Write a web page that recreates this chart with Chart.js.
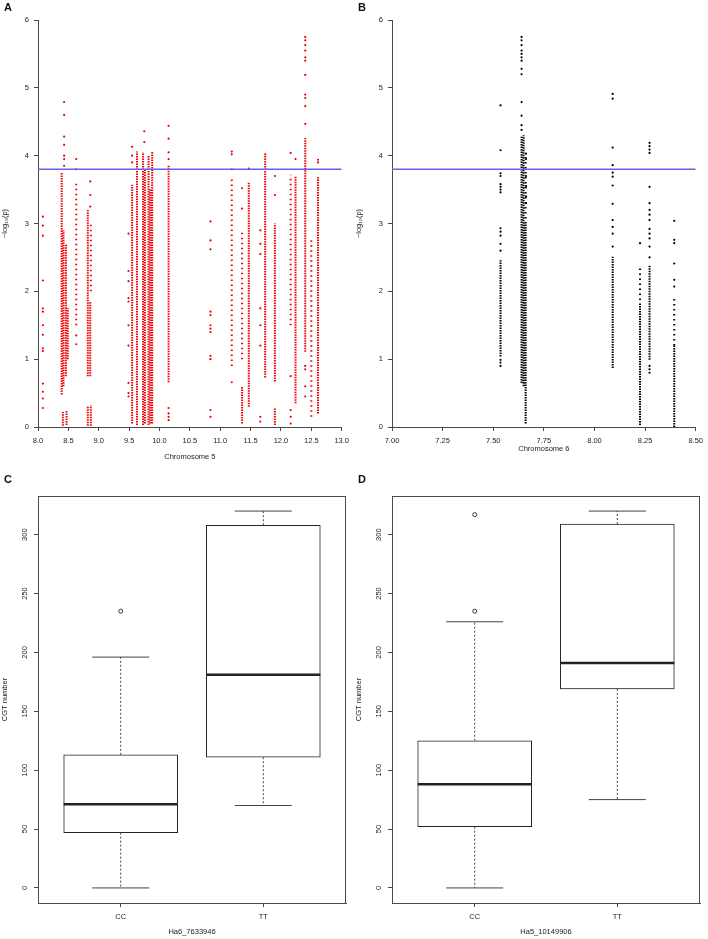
<!DOCTYPE html>
<html lang="en">
<head>
<meta charset="UTF-8">
<title>Chromosome 5 / 6 association and CGT number</title>
<script src="https://cdn.jsdelivr.net/npm/chart.js"></script>
<style>
    body { margin: 0; background: #fff; }
    .figure { position: relative; width: 708px; height: 939px; }
    .panel { position: absolute; }
    .tag { position: absolute; font: bold 11px/11px "Liberation Sans", Arial, sans-serif; color: #111; }
</style>
</head>
<body>
<div class="figure">
    <canvas id="chartA" class="panel" width="354" height="470" style="left:0;top:0"></canvas>
    <canvas id="chartB" class="panel" width="354" height="470" style="left:354px;top:0"></canvas>
    <canvas id="chartC" class="panel" width="354" height="469" style="left:0;top:470px"></canvas>
    <canvas id="chartD" class="panel" width="354" height="469" style="left:354px;top:470px"></canvas>
    <div class="tag" style="left:4px;top:2px">A</div>
    <div class="tag" style="left:358px;top:2px">B</div>
    <div class="tag" style="left:4px;top:474px">C</div>
    <div class="tag" style="left:358px;top:474px">D</div>
</div>

<script>
    // ---- A: chromosome 5 (Mb) vs -log10(p) ----
    const chr5Ticks = [8.0, 8.5, 9.0, 9.5, 10.0, 10.5, 11.0, 11.5, 12.0, 12.5, 13.0];
    const logpTicks = [0, 1, 2, 3, 4, 5, 6];
    const threshold = 3.8;

    // tightly packed runs of markers: [position, lowest, highest]
    const chr5Dense = [
        [8.39, 0.48, 3.75], [8.42, 0.60, 2.90], [8.46, 0.75, 2.70], [8.49, 1.00, 1.75],
        [8.41, 0.02, 0.22], [8.47, 0.03, 0.25],
        [8.82, 0.75, 3.20], [8.86, 0.75, 1.85], [8.82, 0.02, 0.30], [8.87, 0.02, 0.32],
        [9.55, 0.05, 3.57], [9.63, 0.03, 4.06], [9.73, 0.03, 4.05], [9.76, 0.05, 3.80],
        [9.82, 0.03, 4.00], [9.85, 0.05, 3.50], [9.88, 0.05, 4.07],
        [10.15, 0.66, 3.85],
        [11.36, 0.05, 0.60], [11.47, 0.30, 3.60], [11.74, 0.73, 4.00],
        [11.90, 0.67, 3.00], [11.90, 0.03, 0.28],
        [12.24, 0.35, 3.70], [12.40, 1.11, 4.26], [12.61, 0.20, 3.70]
    ];
    // looser runs
    const chr5Sparse = [
        [8.63, 1.50, 3.60], [8.87, 2.00, 3.00], [11.19, 0.90, 3.65], [11.36, 1.00, 2.90],
        [12.16, 1.50, 3.72], [12.50, 0.15, 2.80]
    ];
    // isolated markers: [position, [-log10(p), ...]]
    const chr5Single = [
        [8.08, [3.10, 2.97, 2.82, 2.16, 1.75, 1.70, 1.50, 1.36, 1.16, 1.12, 0.64, 0.52, 0.42, 0.28]],
        [8.43, [4.79, 4.60, 4.28, 4.16, 4.00, 3.95, 3.85]],
        [8.63, [3.95, 3.80, 1.35, 1.22]],
        [8.86, [3.62, 3.42, 3.25]],
        [9.49, [2.85, 2.30, 2.15, 1.90, 1.85, 1.50, 1.20, 0.65, 0.50, 0.45]],
        [9.55, [4.13, 4.00, 3.90]],
        [9.75, [4.36, 4.20]],
        [10.15, [4.44, 4.25, 4.05, 3.95, 0.28, 0.20, 0.15, 0.10]],
        [10.84, [3.03, 2.75, 2.62, 1.70, 1.65, 1.50, 1.45, 1.40, 1.05, 1.00, 0.25, 0.15]],
        [11.19, [4.06, 4.02, 3.80, 0.66]],
        [11.36, [3.52, 3.22]],
        [11.47, [3.81]],
        [11.66, [2.90, 2.70, 2.55, 1.75, 1.50, 1.20, 0.15, 0.08]],
        [11.74, [4.02]],
        [11.90, [3.70, 3.42]],
        [12.16, [4.04, 0.75, 0.25, 0.15, 0.05]],
        [12.24, [3.95]],
        [12.40, [5.75, 5.70, 5.63, 5.55, 5.45, 5.40, 5.19, 4.90, 4.85, 4.73, 4.47, 0.90, 0.85, 0.60, 0.45]],
        [12.61, [3.94, 3.90]]
    ];

    // ---- B: chromosome 6 ----
    const chr6Ticks = [7.00, 7.25, 7.50, 7.75, 8.00, 8.25, 8.50];
    const chr6Dense = [
        [7.536, 1.04, 2.46], [7.640, 0.65, 4.28], [7.650, 0.60, 4.30], [7.660, 0.05, 3.00],
        [8.090, 0.87, 2.51], [8.225, 0.03, 1.80], [8.272, 0.99, 2.39], [8.394, 0.00, 1.20]
    ];
    const chr6Sparse = [
        [7.660, 3.00, 4.00], [8.225, 1.80, 2.39], [8.394, 1.20, 1.93]
    ];
    const chr6Single = [
        [7.536, [4.74, 4.08, 3.74, 3.70, 3.58, 3.54, 3.50, 3.46, 2.93, 2.88, 2.82, 2.70, 2.60, 0.99, 0.95, 0.90]],
        [7.640, [5.75, 5.70, 5.63, 5.55, 5.50, 5.45, 5.40, 5.28, 5.20, 4.79, 4.59, 4.45, 4.38]],
        [7.662, [4.03, 3.95, 3.70, 3.55, 3.40, 3.30]],
        [8.090, [4.91, 4.84, 4.12, 3.86, 3.75, 3.69, 3.56, 3.29, 3.05, 2.95, 2.85, 2.66]],
        [8.225, [2.71]],
        [8.272, [4.19, 4.14, 4.09, 4.04, 3.54, 3.30, 3.20, 3.13, 3.05, 2.92, 2.85, 2.78, 2.66, 2.50, 0.90, 0.85, 0.80]],
        [8.394, [3.04, 2.76, 2.71, 2.41, 2.17, 2.07]]
    ];

    // ---- C / D: CGT number by genotype ----
    const genotypes = ['CC', 'TT'];
    const cgtTicks = [0, 50, 100, 150, 200, 250, 300];

    // Ha6_7633946
    const cLow = [0, 70];
    const cQ1 = [47, 111];
    const cMedian = [71, 181];
    const cQ3 = [113, 308];
    const cHigh = [196, 320];
    const cOutliers = [[235], []];

    // Ha5_10149906
    const dLow = [0, 75];
    const dQ1 = [52, 169];
    const dMedian = [88, 191];
    const dQ3 = [125, 309];
    const dHigh = [226, 320];
    const dOutliers = [[235, 317], []];

    const axisColor = '#4a4a4a';
    const ink = '#222';
    const lineBlue = 'rgb(98, 98, 236)';

    Chart.defaults.font.family = '"Liberation Sans", Arial, sans-serif';
    Chart.defaults.font.size = 7.5;
    Chart.defaults.color = '#222';
    Chart.defaults.animation = false;
    Chart.defaults.events = [];
    Chart.defaults.plugins.legend.display = false;
    Chart.defaults.plugins.tooltip.enabled = false;

    function setTicks(values) {
        return scale => { scale.ticks = values.map(v => ({ value: v })); };
    }

    function manhattan(id, dense, sparse, single, ticks, digits, color, title, titlePad) {
        const xmin = ticks[0];
        const xmax = ticks[ticks.length - 1];
        const runs = list => list.flatMap(([x, lo, hi]) => [{ x, y: lo }, { x, y: hi }, { x, y: null }]);
        const dots = single.flatMap(([x, ys]) => ys.map(y => ({ x, y })));

        new Chart(document.getElementById(id), {
            type: 'scatter',
            data: {
                datasets: [
                    { data: [{ x: xmin, y: threshold }, { x: xmax, y: threshold }], showLine: true,
                      borderColor: lineBlue, borderWidth: 1.3, pointRadius: 0 },
                    { data: dots, pointRadius: 1.1, backgroundColor: color, borderWidth: 0 },
                    { data: runs(dense), showLine: true, borderColor: color, borderWidth: 2,
                      borderDash: [1.5, 1], pointRadius: 0 },
                    { data: runs(sparse), showLine: true, borderColor: color, borderWidth: 2,
                      borderDash: [1.5, 3.5], pointRadius: 0 }
                ]
            },
            options: {
                responsive: false,
                layout: { autoPadding: false, padding: { top: 20, right: 8, left: 0, bottom: 0 } },
                scales: {
                    x: {
                        type: 'linear', min: xmin, max: xmax,
                        afterFit: s => { s.height = 43; },
                        afterBuildTicks: setTicks(ticks),
                        ticks: { padding: 5, maxRotation: 0, autoSkip: false, callback: v => v.toFixed(digits) },
                        grid: { drawOnChartArea: false, color: axisColor, tickLength: 4 },
                        border: { color: axisColor },
                        title: { display: true, text: title, padding: { top: 0, bottom: titlePad } }
                    },
                    y: {
                        min: logpTicks[0], max: logpTicks[logpTicks.length - 1],
                        afterFit: s => { s.width = 38; },
                        afterBuildTicks: setTicks(logpTicks),
                        ticks: { padding: 5 },
                        grid: { drawOnChartArea: false, color: axisColor, tickLength: 4 },
                        border: { color: axisColor },
                        title: { display: true, text: '\u2212log\u2081\u2080(p)', padding: { top: 0.5, bottom: 0 } }
                    }
                }
            }
        });
    }

    const frame = {
        id: 'frame',
        afterDatasetsDraw(chart) {
            const { ctx, chartArea: a } = chart;
            ctx.save();
            ctx.strokeStyle = axisColor;
            ctx.lineWidth = 1;
            ctx.strokeRect(Math.round(a.left) + 0.5, Math.round(a.top) + 0.5,
                           Math.round(a.width) - 1, Math.round(a.height));
            ctx.restore();
        }
    };

    function boxplot(id, low, q1, median, q3, high, outliers, title) {
        const pos = genotypes.map((g, i) => i + 1);
        const all = [...low, ...high, ...outliers.flat()];
        const lo = Math.min(...all), hi = Math.max(...all);
        const pad = (hi - lo) * 0.04;

        const boxes = pos.map((x, i) => ({ x, y: [q1[i], q3[i]] }));
        const medians = pos.map((x, i) => ({ x, y: median[i] }));
        const caps = pos.flatMap((x, i) => [{ x, y: low[i] }, { x, y: high[i] }]);
        const whiskers = pos.flatMap((x, i) => [
            { x, y: q3[i] }, { x, y: high[i] }, { x, y: null },
            { x, y: q1[i] }, { x, y: low[i] }, { x, y: null }
        ]);
        const outs = pos.flatMap((x, i) => outliers[i].map(y => ({ x, y })));

        new Chart(document.getElementById(id), {
            type: 'bar',
            data: {
                datasets: [
                    { type: 'line', data: outs, showLine: false, pointStyle: 'circle', pointRadius: 2,
                      pointBackgroundColor: '#fff', pointBorderColor: ink, pointBorderWidth: 0.9, order: 1 },
                    { type: 'line', data: medians, showLine: false, pointStyle: 'line', pointRadius: 57,
                      pointBorderColor: ink, pointBorderWidth: 2.4, order: 1 },
                    { type: 'line', data: caps, showLine: false, pointStyle: 'line', pointRadius: 28.5,
                      pointBorderColor: '#444', pointBorderWidth: 1, order: 2 },
                    { type: 'line', data: whiskers, borderColor: '#444', borderWidth: 1, borderDash: [2, 2],
                      pointRadius: 0, order: 3 },
                    { type: 'bar', data: boxes, backgroundColor: '#fff', borderColor: ink, borderWidth: 1,
                      borderSkipped: false, barThickness: 114, order: 4 }
                ]
            },
            options: {
                responsive: false,
                layout: { autoPadding: false, padding: { top: 26, right: 8, left: 0, bottom: 0 } },
                scales: {
                    x: {
                        type: 'linear', min: 0.42, max: genotypes.length + 0.58, offset: false,
                        afterFit: s => { s.height = 36; },
                        afterBuildTicks: setTicks(pos),
                        ticks: { padding: 5, maxRotation: 0, autoSkip: false, callback: v => genotypes[v - 1] },
                        grid: { drawOnChartArea: false, offset: false, color: axisColor, tickLength: 4 },
                        border: { color: axisColor },
                        title: { display: true, text: title, padding: { top: 0, bottom: 2.5 } }
                    },
                    y: {
                        min: lo - pad, max: hi + pad,
                        afterFit: s => { s.width = 38; },
                        afterBuildTicks: setTicks(cgtTicks),
                        ticks: { padding: 2.5, minRotation: 90, maxRotation: 90, crossAlign: 'center' },
                        grid: { drawOnChartArea: false, color: axisColor, tickLength: 4 },
                        border: { color: axisColor },
                        title: { display: true, text: 'CGT number', padding: { top: 0.5, bottom: 0 } }
                    }
                }
            },
            plugins: [frame]
        });
    }

    manhattan('chartA', chr5Dense, chr5Sparse, chr5Single, chr5Ticks, 1, '#f00000', 'Chromosome 5', 8.5);
    manhattan('chartB', chr6Dense, chr6Sparse, chr6Single, chr6Ticks, 2, '#000000', 'Chromosome 6', 16.5);
    boxplot('chartC', cLow, cQ1, cMedian, cQ3, cHigh, cOutliers, 'Ha6_7633946');
    boxplot('chartD', dLow, dQ1, dMedian, dQ3, dHigh, dOutliers, 'Ha5_10149906');
</script>
</body>
</html>
